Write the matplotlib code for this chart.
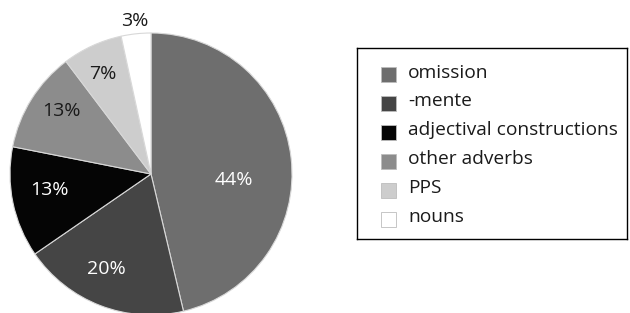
import numpy as np
import matplotlib
matplotlib.use("Agg")
import matplotlib.pyplot as plt
from matplotlib.patches import Rectangle

plt.rcParams['font.family'] = ['Open Sans', 'DejaVu Sans']

categories = ['omission', '-mente', 'adjectival constructions', 'other adverbs', 'PPS', 'nouns']
shares = [46.3, 19.1, 12.7, 11.6, 6.9, 3.4]          # wedge sizes as drawn
pct_labels = ['44%', '20%', '13%', '13%', '7%', '3%']  # printed labels
colors = ['#6e6e6e', '#454545', '#050505', '#8c8c8c', '#cdcdcd', '#ffffff']
label_colors = ['white', 'white', 'white', '#1a1a1a', '#1a1a1a', '#1a1a1a']
label_dist = [0.59, 0.74, 0.73, 0.78, 0.79, 1.09]
label_ang_shift = [-11, -4, -3, -3, 1, 0]

W, H = 630, 313
fig = plt.figure(figsize=(W / 100, H / 100), dpi=100)
fig.patch.set_facecolor('white')

cx, cy, r = 151, 174, 141
ax = fig.add_axes([(cx - r) / W, (H - cy - r) / H, 2 * r / W, 2 * r / H])
wedges, _ = ax.pie(shares, colors=colors, startangle=90, counterclock=False,
                   radius=1.0, wedgeprops=dict(edgecolor='#d8d8d8', linewidth=0.8))
ax.set_xlim(-1, 1)
ax.set_ylim(-1, 1)
ax.set_aspect('equal')
ax.axis('off')

for w, lab, col, d, sh in zip(wedges, pct_labels, label_colors, label_dist, label_ang_shift):
    mid = np.deg2rad((w.theta1 + w.theta2) / 2 + sh)
    ax.text(d * np.cos(mid), d * np.sin(mid), lab, color=col, fontsize=14,
            ha='center', va='center', clip_on=False)

# legend box
lx0, ly0, lx1, ly1 = 357, 48, 627, 239
lax = fig.add_axes([lx0 / W, (H - ly1) / H, (lx1 - lx0) / W, (ly1 - ly0) / H])
lax.set_xlim(lx0, lx1)
lax.set_ylim(ly1, ly0)
lax.set_xticks([])
lax.set_yticks([])
for s in lax.spines.values():
    s.set_color('black')
    s.set_linewidth(1.0)

row0, step, sq = 74.5, 28.9, 15
for i, (cat, col) in enumerate(zip(categories, colors)):
    yc = row0 + i * step
    lax.add_patch(Rectangle((381, yc - sq / 2), sq, sq, facecolor=col,
                            edgecolor='#bdbdbd', linewidth=0.6))
    lax.text(408, yc - 2, cat, fontsize=13.8, va='center', ha='left', color='#1a1a1a')

fig.savefig('out.png', dpi=100)
